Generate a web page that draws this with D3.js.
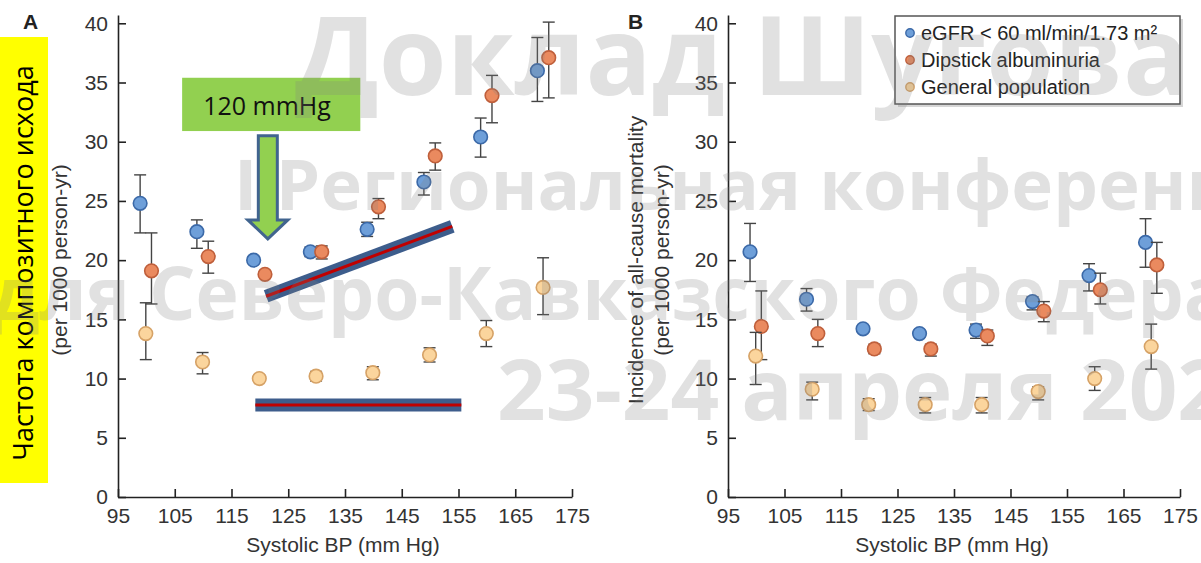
<!DOCTYPE html>
<html>
<head>
<meta charset="utf-8">
<script src="https://cdn.jsdelivr.net/npm/d3@7"></script>
<style>
  body { margin: 0; background: #fff; }
  svg { display: block; font-family: "Liberation Sans", Arial, sans-serif; }
</style>
</head>
<body>
<svg id="chart" width="1201" height="563"></svg>
<script>
// systolic BP groups (mm Hg) and axis ticks
var bpGroups = [100, 110, 120, 130, 140, 150, 160, 170];
var xTicks = [95, 105, 115, 125, 135, 145, 155, 165, 175];
var yTicks = [0, 5, 10, 15, 20, 25, 30, 35, 40];
var seriesNames = ['eGFR < 60 ml/min/1.73 m\u00B2', 'Dipstick albuminuria', 'General population'];

// panel A - composite outcome, per 1000 person-yr
var egfrA     = [24.8, 22.4, 20.0, 20.7, 22.6, 26.6, 30.4, 36.0];
var egfrALow  = [22.3, 21.0, 19.7, 20.3, 22.0, 25.5, 28.7, 33.4];
var egfrAHigh = [27.2, 23.4, 20.3, 21.1, 23.2, 27.4, 32.0, 38.8];
var albA      = [19.1, 20.3, 18.8, 20.7, 24.5, 28.8, 33.9, 37.1];
var albALow   = [16.3, 18.9, 18.5, 20.1, 23.5, 27.6, 31.6, 33.7];
var albAHigh  = [22.3, 21.6, 19.1, 21.2, 25.2, 29.9, 35.6, 40.1];
var genA      = [13.8, 11.4, 10.0, 10.2, 10.5, 12.0, 13.8, 17.7];
var genALow   = [11.6, 10.4, 9.8, 9.8, 9.9, 11.4, 12.7, 15.4];
var genAHigh  = [16.4, 12.2, 10.3, 10.6, 11.0, 12.6, 14.9, 20.2];

// panel B - all-cause mortality, per 1000 person-yr
var egfrB     = [20.7, 16.7, 14.2, 13.8, 14.1, 16.5, 18.7, 21.5];
var egfrBLow  = [18.2, 15.7, 13.9, 13.5, 13.4, 15.8, 17.4, 19.4];
var egfrBHigh = [23.1, 17.6, 14.5, 14.1, 14.6, 16.9, 19.7, 23.5];
var albB      = [14.4, 13.8, 12.5, 12.5, 13.6, 15.7, 17.5, 19.6];
var albBLow   = [11.6, 12.7, 12.1, 11.9, 12.8, 14.8, 16.3, 17.2];
var albBHigh  = [17.4, 15.0, 12.9, 12.9, 14.1, 16.5, 18.9, 21.5];
var genB      = [11.9, 9.1, 7.8, 7.8, 7.8, 8.9, 10.0, 12.7];
var genBLow   = [9.5, 8.2, 7.3, 7.1, 7.1, 8.2, 9.0, 10.8];
var genBHigh  = [13.9, 9.7, 8.3, 8.4, 8.4, 9.3, 11.0, 14.6];

// annotations on panel A (data units)
var calloutLabel = '120 mmHg';
var calloutBox = [106.3, 137.7, 30.9, 35.4];   // x0, x1, y0, y1
var arrowX = 121.4, arrowTop = 30.5, arrowNeck = 23.4, arrowTip = 21.8;
var riseLine = [[121.1, 16.95], [153.9, 22.85]];
var flatLine = [[119.2, 7.76], [155.5, 7.76]];

var sideLabel = 'Частота композитного исхода';
var watermark = ['Доклад Шугова', 'I Региональная конференция', 'для Северо-Кавказского Федерального', '23-24 апреля 202'];

var colors = [
  {fill: '#6e9fd9', stroke: '#3b69a8'},
  {fill: '#ea8a5f', stroke: '#bf5f3b'},
  {fill: '#fbd59d', stroke: '#d6a266'}
];
var offsets = [-1.1, 0.9, -0.1];

var svg = d3.select('#chart');

function makeSeries(vals, lo, hi) {
  return vals.map(function(v, i) { return {bp: bpGroups[i], v: v, lo: lo[i], hi: hi[i]}; });
}

var panels = [
  {letter: 'A', left: 118, right: 572, letterX: 23,
   titles: ['(per 1000 person-yr)'], titleX: [60],
   series: [makeSeries(egfrA, egfrALow, egfrAHigh), makeSeries(albA, albALow, albAHigh), makeSeries(genA, genALow, genAHigh)]},
  {letter: 'B', left: 728, right: 1180, letterX: 628,
   titles: ['Incidence of all-cause mortality', '(per 1000 person-yr)'], titleX: [636, 662],
   series: [makeSeries(egfrB, egfrBLow, egfrBHigh), makeSeries(albB, albBLow, albBHigh), makeSeries(genB, genBLow, genBHigh)]}
];

var scalesA;

panels.forEach(function(p) {
  var x = d3.scaleLinear().domain([95, 175]).range([p.left, p.right]);
  var y = d3.scaleLinear().domain([0, 40.7]).range([497, 15]);
  if (p.letter === 'A') scalesA = {x: x, y: y};
  var g = svg.append('g');

  var xAxis = g.append('g').attr('transform', 'translate(0,497)')
    .call(d3.axisBottom(x).tickValues(xTicks).tickSize(-8).tickSizeOuter(0).tickPadding(11));
  var yAxis = g.append('g').attr('transform', 'translate(' + p.left + ',0)')
    .call(d3.axisLeft(y).tickValues(yTicks).tickSize(-8).tickSizeOuter(0).tickPadding(10));
  [xAxis, yAxis].forEach(function(a) {
    a.selectAll('path, line').attr('stroke', '#222').attr('stroke-width', 1.6);
    a.selectAll('text').attr('font-size', 21).attr('fill', '#333')
      .attr('font-family', '"Liberation Sans", Arial, sans-serif');
  });

  g.append('text').attr('x', (p.left + p.right) / 2 - 2).attr('y', 552)
    .attr('text-anchor', 'middle').attr('font-size', 21).attr('fill', '#333')
    .text('Systolic BP (mm Hg)');

  p.titles.forEach(function(t, i) {
    g.append('text').attr('transform', 'translate(' + p.titleX[i] + ',260) rotate(-90)')
      .attr('text-anchor', 'middle').attr('dy', '0.35em').attr('font-size', 21).attr('fill', '#333')
      .text(t);
  });

  g.append('text').attr('x', p.letterX).attr('y', 29).attr('font-size', 21)
    .attr('font-weight', 'bold').attr('fill', '#222').text(p.letter);

  p.series.forEach(function(s, si) {
    var sg = g.append('g');
    var eb = sg.selectAll('g.err').data(s).enter().append('g');
    eb.append('line')
      .attr('x1', function(d) { return x(d.bp + offsets[si]); })
      .attr('x2', function(d) { return x(d.bp + offsets[si]); })
      .attr('y1', function(d) { return y(d.lo); })
      .attr('y2', function(d) { return y(d.hi); });
    ['lo', 'hi'].forEach(function(k) {
      eb.append('line')
        .attr('x1', function(d) { return x(d.bp + offsets[si]) - 6; })
        .attr('x2', function(d) { return x(d.bp + offsets[si]) + 6; })
        .attr('y1', function(d) { return y(d[k]); })
        .attr('y2', function(d) { return y(d[k]); });
    });
    eb.selectAll('line').attr('stroke', '#444').attr('stroke-width', 1.4);
    sg.selectAll('circle').data(s).enter().append('circle')
      .attr('cx', function(d) { return x(d.bp + offsets[si]); })
      .attr('cy', function(d) { return y(d.v); })
      .attr('r', 6.8)
      .attr('fill', colors[si].fill)
      .attr('stroke', colors[si].stroke)
      .attr('stroke-width', 1.6);
  });
});

// legend (panel B)
var lg = svg.append('g');
lg.append('rect').attr('x', 898).attr('y', 19).attr('width', 285).attr('height', 88).attr('fill', '#bbb').attr('opacity', 0.6);
lg.append('rect').attr('x', 895).attr('y', 16).attr('width', 285).attr('height', 88)
  .attr('fill', '#fff').attr('stroke', '#555').attr('stroke-width', 1.5);
seriesNames.forEach(function(n, i) {
  var cy = 33 + i * 27;
  lg.append('circle').attr('cx', 910).attr('cy', cy).attr('r', 4.2)
    .attr('fill', colors[i].fill).attr('stroke', colors[i].stroke).attr('stroke-width', 1.4);
  lg.append('text').attr('x', 921).attr('y', cy + 7).attr('font-size', 20).attr('fill', '#222').text(n);
});

// annotations on panel A
var xa = scalesA.x, ya = scalesA.y;
var ann = svg.append('g');

ann.append('rect')
  .attr('x', xa(calloutBox[0])).attr('y', ya(calloutBox[3]))
  .attr('width', xa(calloutBox[1]) - xa(calloutBox[0]))
  .attr('height', ya(calloutBox[2]) - ya(calloutBox[3]))
  .attr('fill', '#92d050');
ann.append('text').attr('x', xa(calloutBox[0]) + 21).attr('y', ya(calloutBox[2]) - 16)
  .attr('font-family', '"Open Sans", sans-serif').attr('font-size', 25).attr('fill', '#111')
  .text(calloutLabel);

var ax = xa(arrowX);
var arrowPts = [
  [ax - 9.5, ya(arrowTop)], [ax + 9.5, ya(arrowTop)], [ax + 9.5, ya(arrowNeck)],
  [ax + 20, ya(arrowNeck)], [ax, ya(arrowTip)], [ax - 20, ya(arrowNeck)], [ax - 9.5, ya(arrowNeck)]
];
ann.append('polygon').attr('points', arrowPts.map(function(p) { return p.join(','); }).join(' '))
  .attr('fill', '#92d050').attr('stroke', '#41648f').attr('stroke-width', 3).attr('stroke-linejoin', 'miter');

var lineGen = d3.line().x(function(d) { return xa(d[0]); }).y(function(d) { return ya(d[1]); });
[riseLine, flatLine].forEach(function(l) {
  ann.append('path').attr('d', lineGen(l)).attr('stroke', '#3d5d8c').attr('stroke-width', 13).attr('fill', 'none');
  ann.append('path').attr('d', lineGen(l)).attr('stroke', '#c00000').attr('stroke-width', 3).attr('fill', 'none');
});

// yellow side label
svg.append('rect').attr('x', 0).attr('y', 37).attr('width', 48).attr('height', 446).attr('fill', '#ffff00');
svg.append('text').attr('transform', 'translate(33,263) rotate(-90)')
  .attr('text-anchor', 'middle').attr('font-family', '"Open Sans", sans-serif')
  .attr('font-size', 27).attr('fill', '#000').text(sideLabel);

// watermark overlay: each line is sized so that two of its letters land where they sit on the slide
// [charIndex1, x1, charIndex2, x2, baseline]
var wmFit = [
  [0, 295, 7, 753, 95],
  [0, 234, 22, 1140, 210],
  [4, 149, 23, 940, 320],
  [0, 497, 13, 1080, 420]
];
watermark.forEach(function(t, i) {
  var f = wmFit[i];
  var tx = svg.append('text').attr('x', 0).attr('y', f[4])
    .attr('font-family', '"Open Sans", sans-serif').attr('font-weight', 'bold')
    .attr('font-size', 100).attr('fill', '#808080').attr('fill-opacity', 0.24)
    .text(t);
  var node = tx.node();
  var p1 = node.getStartPositionOfChar(f[0]).x;
  var p2 = node.getStartPositionOfChar(f[2]).x;
  var s = (f[3] - f[1]) / (p2 - p1);
  tx.attr('font-size', 100 * s).attr('x', f[1] - p1 * s);
});
</script>
</body>
</html>
